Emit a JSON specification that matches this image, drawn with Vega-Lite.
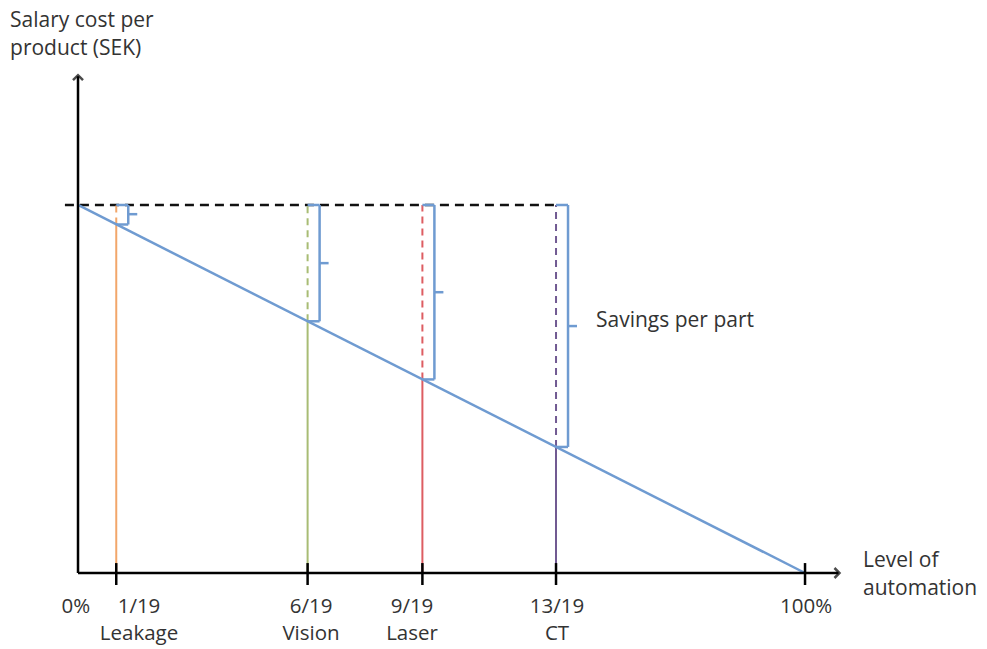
{
  "$schema": "https://vega.github.io/schema/vega-lite/v6.json",
  "width": 987,
  "height": 649,
  "autosize": {"type": "none"},
  "padding": 0,
  "background": "white",
  "config": {"view": {"stroke": null}, "axis": {"disable": true}},
  "datasets": {
    "axes": [
      {"seg": "y", "x": 0, "x2": 0, "y": 0, "y2": 1.35},
      {"seg": "x", "x": 0, "x2": 1.046, "y": 0, "y2": 0}
    ],
    "arrows": [
      {"dir": "up", "x": 0, "y": 1.35},
      {"dir": "right", "x": 1.046, "y": 0}
    ],
    "ticks": [{"share": 0.0526}, {"share": 0.3158}, {"share": 0.4737}, {"share": 0.6575}, {"share": 1}],
    "reference": [{"from": -0.018, "to": 0.663, "cost": 1}],
    "line": [{"share": 0, "cost": 1}, {"share": 1, "cost": 0}],
    "savings": [
      {"stage": "Leakage", "share": 0.0526, "cost": 0.947, "mid": 0.975, "floor": 0, "manual": 1},
      {"stage": "Vision", "share": 0.3158, "cost": 0.684, "mid": 0.842, "floor": 0, "manual": 1},
      {"stage": "Laser", "share": 0.4737, "cost": 0.526, "mid": 0.763, "floor": 0, "manual": 1},
      {"stage": "CT", "share": 0.6575, "cost": 0.3425, "mid": 0.671, "floor": 0, "manual": 1}
    ],
    "xlabels": [
      {"at": -0.003, "label": "0%"},
      {"at": 0.0839, "label": "1/19\nLeakage"},
      {"at": 0.3205, "label": "6/19\nVision"},
      {"at": 0.4594, "label": "9/19\nLaser"},
      {"at": 0.6589, "label": "13/19\nCT"},
      {"at": 1.0014, "label": "100%"}
    ],
    "notes": [
      {"x": -0.0935, "y": 1.4837, "text": "Salary cost per\nproduct (SEK)"},
      {"x": 1.0798, "y": 0.0163, "text": "Level of\nautomation"},
      {"x": 0.7125, "y": 0.6685, "text": "Savings per part"}
    ]
  },
  "layer": [
    {
      "data": {"name": "reference"},
      "mark": {"type": "rule", "color": "#111111", "strokeWidth": 2.5, "strokeDash": [9, 6]},
      "encoding": {
        "x": {"field": "from", "type": "quantitative", "scale": {"domain": [-0.1073, 1.2503], "nice": false, "zero": false}},
        "x2": {"field": "to"},
        "y": {"field": "cost", "type": "quantitative", "scale": {"domain": [-0.2065, 1.557], "nice": false, "zero": false}}
      }
    },
    {
      "data": {"name": "savings"},
      "mark": {"type": "rule", "strokeWidth": 2},
      "encoding": {
        "x": {"field": "share", "type": "quantitative"},
        "y": {"field": "floor", "type": "quantitative"},
        "y2": {"field": "cost"},
        "color": {"field": "stage", "type": "nominal", "legend": null,
          "scale": {"domain": ["Leakage", "Vision", "Laser", "CT"], "range": ["#F2A66A", "#A8BC74", "#DD5D62", "#715A92"]}}
      }
    },
    {
      "data": {"name": "savings"},
      "mark": {"type": "rule", "strokeWidth": 2, "strokeDash": [7, 5]},
      "encoding": {
        "x": {"field": "share", "type": "quantitative"},
        "y": {"field": "cost", "type": "quantitative"},
        "y2": {"field": "manual"},
        "color": {"field": "stage", "type": "nominal", "legend": null}
      }
    },
    {
      "data": {"name": "line"},
      "mark": {"type": "line", "color": "#6F9BD1", "strokeWidth": 2.5},
      "encoding": {
        "x": {"field": "share", "type": "quantitative"},
        "y": {"field": "cost", "type": "quantitative"}
      }
    },
    {
      "data": {"name": "savings"},
      "mark": {"type": "rule", "color": "#6F9BD1", "strokeWidth": 2.5, "xOffset": 12},
      "encoding": {
        "x": {"field": "share", "type": "quantitative"},
        "y": {"field": "cost", "type": "quantitative"},
        "y2": {"field": "manual"}
      }
    },
    {
      "data": {"name": "savings"},
      "mark": {"type": "rule", "color": "#6F9BD1", "strokeWidth": 2.5, "x2Offset": 12},
      "encoding": {
        "x": {"field": "share", "type": "quantitative"},
        "x2": {"field": "share"},
        "y": {"field": "manual", "type": "quantitative"}
      }
    },
    {
      "data": {"name": "savings"},
      "mark": {"type": "rule", "color": "#6F9BD1", "strokeWidth": 2.5, "x2Offset": 12},
      "encoding": {
        "x": {"field": "share", "type": "quantitative"},
        "x2": {"field": "share"},
        "y": {"field": "cost", "type": "quantitative"}
      }
    },
    {
      "data": {"name": "savings"},
      "mark": {"type": "rule", "color": "#6F9BD1", "strokeWidth": 2.5, "xOffset": 12, "x2Offset": 21},
      "encoding": {
        "x": {"field": "share", "type": "quantitative"},
        "x2": {"field": "share"},
        "y": {"field": "mid", "type": "quantitative"}
      }
    },
    {
      "data": {"name": "axes"},
      "mark": {"type": "rule", "color": "#000000", "strokeWidth": 2.5},
      "encoding": {
        "x": {"field": "x", "type": "quantitative"},
        "x2": {"field": "x2"},
        "y": {"field": "y", "type": "quantitative"},
        "y2": {"field": "y2"}
      }
    },
    {
      "data": {"name": "ticks"},
      "mark": {"type": "rule", "color": "#000000", "strokeWidth": 2.5},
      "encoding": {
        "x": {"field": "share", "type": "quantitative"},
        "y": {"datum": 0.027, "type": "quantitative"},
        "y2": {"datum": -0.0326}
      }
    },
    {
      "data": {"name": "arrows"},
      "transform": [{"filter": "datum.dir === 'up'"}],
      "mark": {"type": "point", "shape": "M -1 0.8 L 0 -0.2 L 1 0.8", "filled": false, "stroke": "#000000", "strokeWidth": 2.5, "size": 100},
      "encoding": {
        "x": {"field": "x", "type": "quantitative"},
        "y": {"field": "y", "type": "quantitative"}
      }
    },
    {
      "data": {"name": "arrows"},
      "transform": [{"filter": "datum.dir === 'right'"}],
      "mark": {"type": "point", "shape": "M -0.8 -1 L 0.2 0 L -0.8 1", "filled": false, "stroke": "#000000", "strokeWidth": 2.5, "size": 100},
      "encoding": {
        "x": {"field": "x", "type": "quantitative"},
        "y": {"field": "y", "type": "quantitative"}
      }
    },
    {
      "data": {"name": "xlabels"},
      "mark": {"type": "text", "font": "Open Sans", "fontSize": 20.5, "color": "#333333", "align": "center", "baseline": "alphabetic", "lineBreak": "\n", "lineHeight": 27},
      "encoding": {
        "x": {"field": "at", "type": "quantitative"},
        "y": {"datum": -0.1087, "type": "quantitative"},
        "text": {"field": "label"}
      }
    },
    {
      "data": {"name": "notes"},
      "mark": {"type": "text", "font": "Open Sans", "fontSize": 21, "color": "#333333", "align": "left", "baseline": "alphabetic", "lineBreak": "\n", "lineHeight": 28},
      "encoding": {
        "x": {"field": "x", "type": "quantitative"},
        "y": {"field": "y", "type": "quantitative"},
        "text": {"field": "text"}
      }
    }
  ]
}
